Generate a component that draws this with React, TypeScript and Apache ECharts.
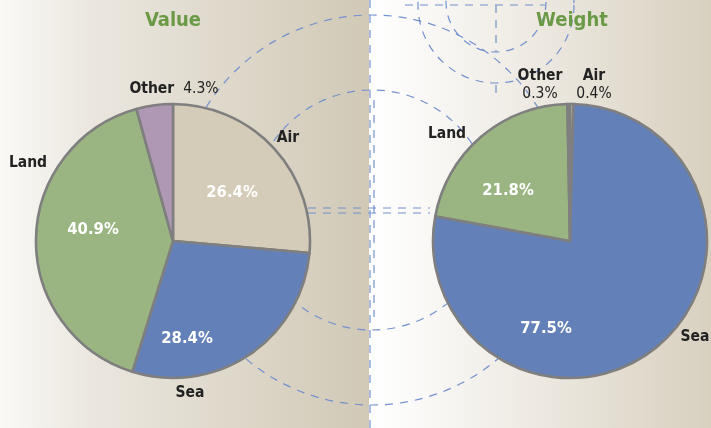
import React, { useEffect, useRef } from "react";
import * as echarts from "echarts";

const categoriesValue = ["Air", "Sea", "Land", "Other"];
const valueShares = [26.4, 28.4, 40.9, 4.3];
const categoriesWeight = ["Air", "Sea", "Land", "Other"];
const weightShares = [0.4, 77.5, 21.8, 0.3];
const titles = ["Value", "Weight"];

const sliceColors: Record<string, string> = {
  Air: "#d4cbb9",
  Sea: "#6380b8",
  Land: "#9ab482",
  Other: "#ae98b4",
};

// layout (label anchor positions, pixels)
const insideLeft = [[232, 191], [187, 337], [93, 228], [0, 0]];
const outsideLeft = [[288, 137], [190, 392], [28, 162], [174, 88]];
const insideRight = [[0, 0], [546, 327], [508, 189], [0, 0]];
const outsideRight = [[594, 84], [695, 336], [447, 133], [540, 84]];

const FONT = "'DejaVu Sans Condensed', 'DejaVu Sans', sans-serif";
const DASH = "#7390d0";

export default function App() {
  const ref = useRef<HTMLDivElement>(null);
  useEffect(() => {
    if (!ref.current) return;
    const chart = echarts.init(ref.current, undefined, { renderer: "svg" });

    const mk = (cats: string[], vals: number[]) =>
      cats.map((c, i) => ({ name: c, value: vals[i], itemStyle: { color: sliceColors[c] } }));

    const smallThreshold = 5;

    const pieBase = (center: number[]) => ({
      type: "pie" as const,
      center,
      radius: 137,
      startAngle: 90,
      clockwise: true,
      avoidLabelOverlap: false,
      labelLine: { show: false },
      emphasis: { disabled: true },
    });

    const visible = (cats: string[], vals: number[], center: number[], pos: number[][]) => ({
      ...pieBase(center),
      z: 2,
      data: mk(cats, vals),
      itemStyle: { borderColor: "#7f7f7f", borderWidth: 2.6 },
      label: {
        show: true,
        position: "inside",
        formatter: (p: any) => (p.value >= smallThreshold ? `${p.value.toFixed(1)}%` : ""),
        color: "#ffffff",
        fontFamily: FONT,
        fontWeight: "bold",
        fontSize: 16.5,
      },
      labelLayout: (p: any) => ({
        x: pos[p.dataIndex][0],
        y: pos[p.dataIndex][1],
        align: "center",
        verticalAlign: "middle",
      }),
    });

    const names = (cats: string[], vals: number[], center: number[], pos: number[][], oneLine: boolean) => ({
      ...pieBase(center),
      z: 3,
      silent: true,
      data: cats.map((c, i) => ({ name: c, value: vals[i], itemStyle: { color: "rgba(0,0,0,0)" } })),
      itemStyle: { borderWidth: 0 },
      label: {
        show: true,
        position: "outside",
        formatter: (p: any) =>
          p.value >= smallThreshold
            ? `{b|${p.name}}`
            : oneLine
            ? `{b|${p.name}}{g|}{v|${p.value.toFixed(1)}%}`
            : `{b|${p.name}}\n{v|${p.value.toFixed(1)}%}`,
        rich: {
          b: { fontFamily: FONT, fontWeight: "bold", fontSize: 15.5, color: "#222222", lineHeight: 18 },
          v: { fontFamily: FONT, fontWeight: "normal", fontSize: 15.5, color: "#222222", lineHeight: 18 },
          g: { width: 9 },
        },
      },
      labelLayout: (p: any) => ({
        x: pos[p.dataIndex][0],
        y: pos[p.dataIndex][1],
        align: "center",
        verticalAlign: "middle",
      }),
    });

    const dashed = { stroke: DASH, lineWidth: 1.2, lineDash: [8, 7], fill: "none" };

    chart.setOption({
      animation: false,
      title: [
        {
          text: titles[0],
          left: 168,
          top: 4,
          textAlign: "center",
          textStyle: { fontFamily: FONT, fontWeight: "bold", fontSize: 20, color: "#6a9a45" },
        },
        {
          text: titles[1],
          left: 567,
          top: 4,
          textAlign: "center",
          textStyle: { fontFamily: FONT, fontWeight: "bold", fontSize: 20, color: "#6a9a45" },
        },
      ],
      graphic: [
        {
          type: "rect",
          z: 0,
          shape: { x: 0, y: 0, width: 369, height: 428 },
          style: {
            fill: new echarts.graphic.LinearGradient(0, 0, 1, 0, [
              { offset: 0, color: "#faf9f6" },
              { offset: 0.25, color: "#ebe7df" },
              { offset: 1, color: "#d1c9b6" },
            ]),
          },
        },
        {
          type: "rect",
          z: 0,
          shape: { x: 369, y: 0, width: 342, height: 428 },
          style: {
            fill: new echarts.graphic.LinearGradient(0, 0, 1, 0, [
              { offset: 0, color: "#ffffff" },
              { offset: 0.06, color: "#fdfdfc" },
              { offset: 0.45, color: "#efebe4" },
              { offset: 1, color: "#d8d0bf" },
            ]),
          },
        },
        { type: "circle", z: 1, shape: { cx: 372, cy: 210, r: 120 }, style: dashed },
        { type: "circle", z: 1, shape: { cx: 372, cy: 210, r: 195 }, style: dashed },
        { type: "circle", z: 1, shape: { cx: 496, cy: 5, r: 78 }, style: dashed },
        { type: "circle", z: 1, shape: { cx: 496, cy: 2, r: 50 }, style: dashed },
        { type: "line", z: 1, shape: { x1: 405, y1: 5, x2: 545, y2: 5 }, style: dashed },
        { type: "line", z: 1, shape: { x1: 496, y1: 5, x2: 496, y2: 52 }, style: dashed },
        { type: "line", z: 1, shape: { x1: 496, y1: 85, x2: 496, y2: 96 }, style: dashed },
        { type: "line", z: 1, shape: { x1: 308, y1: 208, x2: 430, y2: 208 }, style: dashed },
        { type: "line", z: 1, shape: { x1: 308, y1: 213, x2: 430, y2: 213 }, style: dashed },
        { type: "line", z: 1, shape: { x1: 370, y1: 0, x2: 370, y2: 428 }, style: dashed },
        { type: "line", z: 1, shape: { x1: 374, y1: 100, x2: 374, y2: 317 }, style: dashed },
      ],
      series: [
        visible(categoriesValue, valueShares, [173, 241], insideLeft),
        names(categoriesValue, valueShares, [173, 241], outsideLeft, true),
        visible(categoriesWeight, weightShares, [570, 241], insideRight),
        names(categoriesWeight, weightShares, [570, 241], outsideRight, false),
      ],
    });
    return () => chart.dispose();
  }, []);
  return (
    <div
      ref={ref}
      style={{ position: "fixed", left: 0, top: 0, width: 711, height: 428 }}
    />
  );
}
